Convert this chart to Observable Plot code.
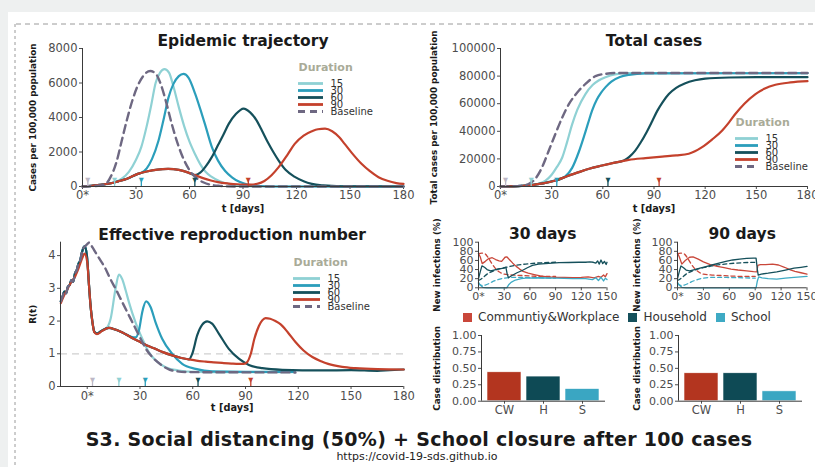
<!DOCTYPE html>
<html><head><meta charset="utf-8">
<script src="https://cdn.jsdelivr.net/npm/d3@7"></script>
<script src="https://cdn.jsdelivr.net/npm/@observablehq/plot@0.6"></script>
<style>
html,body{margin:0;padding:0;background:#eef0f0;overflow:hidden;}
#page{position:relative;width:815px;height:467px;overflow:hidden;}
#paper{position:absolute;left:8px;top:12px;right:0;bottom:0;background:#fff;}
#deco{position:absolute;left:0;top:0;}
#title{position:absolute;left:0;width:838px;top:428px;text-align:center;font:bold 19px "DejaVu Sans";letter-spacing:0.3px;color:#1a1a1a;white-space:nowrap;}
#url{position:absolute;left:0;width:834px;top:450px;text-align:center;font:11px "DejaVu Sans";color:#222;white-space:nowrap;}
.srcleg-swatches{font-family:"DejaVu Sans" !important;font-size:12px !important;color:#333 !important;margin:0 !important;min-height:0 !important;display:flex !important;align-items:center !important;}
.srcleg-swatch{margin-right:9px !important;}
.srcleg-swatch > svg{margin-right:6px !important;}
</style></head>
<body>
<div id="page">
  <div id="paper"></div>
  <svg id="deco" width="815" height="467">
    <line x1="16" y1="24" x2="815" y2="24" stroke="#9a9a9a" stroke-width="1" stroke-dasharray="5,4"/>
    <line x1="15" y1="24" x2="15" y2="467" stroke="#9a9a9a" stroke-width="1" stroke-dasharray="3,3"/>
  </svg>
  <div id="title">S3. Social distancing (50%) + School closure after 100 cases</div>
  <div id="url">https://covid-19-sds.github.io</div>
</div>
<script>
// ---------- data ----------
const durations = ["15", "30", "60", "90", "Baseline"];
const durColors = ["#8fd1d4", "#2b9ebb", "#15505b", "#c4412c", "#6e6882"];
const markerDays = [3, 18, 33, 63, 93];
const markerColors = ["#bdb8c6", "#8fd1d4", "#2b9ebb", "#15505b", "#c4412c"];
const dayTicks = [0, 30, 60, 90, 120, 150, 180];
const smallTicks = [0, 30, 60, 90, 120, 150];

// Epidemic trajectory (cases per 100,000)
const traj15 = [[0,0],[5,40],[10,90],[15,170],[18,250],[22,450],[26,850],[30,1550],[33,2300],[36,3500],[38.5,4700],[41,6000],[43.5,6600],[46,6800],[48.5,6600],[51,5800],[54,4600],[57,3500],[60,2600],[63,1900],[66,1300],[69,850],[72.5,560],[77,300],[82,150],[87,60],[92,15],[100,0],[180,0]];
const traj30 = [[0,0],[5,40],[10,90],[16,190],[20,300],[25,450],[31,730],[33,790],[36,1050],[39,1600],[42.6,2650],[45.5,3900],[48.2,5150],[51,5950],[54,6400],[56.6,6530],[59.5,6300],[63.2,5370],[66,4500],[69,3500],[72.5,2300],[76,1500],[80,900],[84,520],[88,270],[92,130],[100,30],[110,0],[180,0]];
const traj60 = [[0,0],[5,40],[10,90],[16,190],[20,300],[25,450],[31,730],[36,870],[42,980],[48,1020],[54,960],[59,820],[63,660],[66,800],[69,1150],[72.5,1700],[76,2400],[79,3000],[82,3630],[86,4200],[90.3,4520],[94,4300],[97.5,3850],[100.6,3250],[104,2550],[107,2000],[110,1500],[114,950],[119.3,540],[124,300],[128.6,150],[135,60],[145,10],[180,0]];
const traj90 = [[0,0],[5,40],[10,90],[16,190],[20,300],[25,450],[31,730],[36,870],[42,980],[48,1020],[54,960],[59,820],[63,660],[68,470],[72,350],[76,250],[82,170],[87,130],[91,115],[94,110],[98,160],[102,320],[106,650],[110,1120],[115,1850],[119,2470],[124,2950],[128.6,3200],[132,3320],[136,3350],[140,3200],[144,2850],[147,2470],[151,1950],[156.6,1300],[161,900],[166,540],[171,330],[176,200],[180,150]];
const trajBase = [[0,0],[5,15],[10,60],[13,150],[16,600],[19,1400],[22,2650],[25,3900],[28,5000],[31,5850],[34,6400],[38,6700],[41,6550],[44,5900],[47,4850],[50,3650],[53,2600],[56,1750],[60,950],[64,480],[68,230],[72,100],[77,35],[85,0],[180,0]];

// Total cases (per 100,000)
const total15 = [[0,0],[10,300],[15,700],[18,1000],[22,2000],[26.4,4300],[30,8500],[33,14000],[36.2,21000],[39,32000],[42,45000],[45,55500],[49.8,67000],[54,73500],[57.5,76800],[61.6,79200],[67,81200],[75,82100],[180,82200]];
const total30 = [[0,0],[10,300],[15,700],[20,1400],[25,2300],[32,4350],[35,5300],[38,7300],[42,13500],[45.9,25000],[49,36500],[51.5,46500],[53.7,55000],[56.5,63000],[59,68000],[61.6,72000],[65,76000],[70,79300],[75.2,80900],[85,82000],[180,82100]];
const total60 = [[0,0],[10,300],[16.6,750],[20,1400],[25,2300],[32.2,4350],[39,7400],[45.9,10400],[52,12900],[59.6,15200],[67,17300],[72.3,18800],[75.5,21500],[79,26000],[82,31500],[85.5,39000],[89,47500],[92,55000],[95,61000],[98.7,67000],[103,71500],[108,74700],[114,77000],[120,78200],[134,79000],[150,79200],[180,79200]];
const total90 = [[0,0],[10,300],[16.6,750],[20,1400],[25,2300],[32.2,4350],[39,7400],[45.9,10400],[52,12900],[59.6,15200],[67,17300],[75.2,19300],[85,20600],[94.8,21700],[103,22500],[110.4,23700],[114,25500],[118.2,28500],[124,34000],[130,40600],[134,46500],[137.8,52700],[143,60000],[149.5,67000],[155,71000],[161.2,73700],[170,75400],[180,76300]];
const totalBase = [[0,0],[5,80],[10,300],[14,800],[17,2200],[20,5000],[24.4,14000],[28,25000],[32,37500],[36.2,50000],[40,59500],[43,65000],[46,69600],[50,74500],[55.7,80000],[62,81700],[70,82300],[180,82300]];

// Effective reproduction number R(t)
const rtDomain = [-15.2, 180];
const rtEarly = [[-15,2.6],[-14,2.75],[-13,2.9],[-12,2.85],[-11,3.05],[-10,3.1],[-9,3.25],[-8,3.2],[-7,3.45],[-6,3.55],[-5,3.75],[-4,3.85],[-3,4.1],[-2,4.25],[-1.3,4.28]];
const rtDrop = [[0,3.9],[1,3.1],[2,2.4],[3,1.95],[4,1.68],[5.5,1.62],[8,1.7],[12.3,1.79]];
const rt15Start = [[10.4,1.76],[13.3,2.07]];
const rt15 = [[16.1,2.99],[18,3.42],[19.9,3.28],[21.8,2.95],[23.7,2.58],[27.5,1.95],[31.3,1.46],[35,1.05],[38.8,0.8],[44.5,0.59],[52,0.49],[61.6,0.45],[80,0.44],[118,0.44]];
const rt30 = [[16,1.74],[20,1.65],[25,1.52],[27.5,1.5],[29.4,1.71],[31.3,2.28],[33.5,2.6],[36,2.43],[38.8,1.97],[42.6,1.46],[48.3,1.0],[54,0.69],[61.6,0.54],[71,0.46],[90,0.45],[118,0.45]];
const rt90Early = [[-15,2.55],[-13,2.8],[-11,3.0],[-9,3.2],[-7,3.35],[-5,3.6],[-3,3.9],[-1.5,4.06],[0,3.8],[1,3.1],[2,2.4],[3,1.95],[4,1.66],[5.5,1.6],[8.5,1.7],[12.3,1.79]];
const rt90Mid = [[16,1.74],[20,1.65],[25,1.5],[29.4,1.38],[34,1.25],[38.8,1.15],[43,1.05],[48.3,0.95],[53,0.88],[57.8,0.83]];
const rt60Late = [[59.7,1.0],[62.5,1.56],[65.4,1.89],[68.2,1.99],[71,1.92],[74.9,1.61],[80.5,1.15],[86.2,0.85],[91.9,0.66],[99.5,0.56],[110.9,0.51],[133.6,0.49],[150,0.5],[165,0.48],[172,0.5],[180,0.52]];
const rt90Late = [[62,0.79],[67.3,0.76],[72,0.74],[76.7,0.72],[82,0.7],[86.2,0.69],[89,0.69],[91,0.75],[93,1.0],[95,1.45],[97.6,1.85],[99.5,2.02],[101.4,2.09],[104,2.07],[107,2.0],[110,1.9],[114,1.66],[118.4,1.36],[123,1.1],[128,0.9],[133,0.77],[137,0.69],[145,0.6],[152.5,0.56],[165,0.53],[180,0.52]];
const rtBase = [[0,4.35],[1,4.4],[3,4.25],[4.7,4.1],[7,3.9],[10.4,3.6],[13,3.3],[16.1,2.99],[19.9,2.58],[22.7,2.28],[25.6,1.97],[28.5,1.66],[31.3,1.36],[34,1.1],[37,0.9],[42.6,0.64],[48.3,0.49],[57.8,0.44],[118.4,0.43]];

// New infections by setting (%)
const sources = ["Communtiy&Workplace", "Household", "School"];
const srcColors = ["#c9473a", "#15505b", "#3eaac4"];
const cw30 = [[0,75],[2,68],[4.3,53],[8,58],[12,64],[16,66],[20,62],[24,59],[27,58],[31,67],[33,68],[36,62],[40,54],[44,47],[48,41],[52,36],[58,32],[65,29],[72,26],[80,24],[90,23],[100,23],[110,22.5],[120,23],[128,24],[135,22],[140,25],[143,23],[146,28],[148,24],[150,31]];
const hh30 = [[0,20],[2,35],[4,48],[7,45],[10,40],[14,37],[18,39],[22,41],[26,42],[30,43],[32,45],[33.5,30],[35,22],[39,27],[45,33],[51,38],[57,44],[63,49],[70,52],[78,53],[86,54],[94,55],[105,55.5],[117,56],[125,56],[130,57],[134,56],[137,54],[139,59],[141,52],[143,61],[145,53],[147,58],[149,51],[150,56]];
const sc30 = [[0,12],[2,6],[5,1],[10,0],[20,0],[33,0],[35,6],[38,12],[43,17],[50,20],[55,21],[70,22],[90,21],[110,20],[125,20],[133,18],[137,22],[140,16],[143,23],[146,15],[148,21],[150,18]];
const cw90 = [[0,76],[2,68],[5,52],[9,60],[14,67],[18,68],[24,63],[30,57],[38,51],[46,47],[54,44],[62,41],[70,39],[80,37],[88,35.5],[92,35],[93,49],[96,51],[102,51],[110,52],[117,50],[124,45],[130,40],[136,36],[143,33],[150,30]];
const hh90 = [[0,20],[2,35],[4,48],[7,44],[10,39],[14,37],[20,40],[26,43],[32,46],[40,50],[48,54],[56,58],[64,61],[72,63],[80,64.5],[88,65],[91,65],[92.5,40],[93.5,28],[97,30],[105,32],[115,35],[125,39],[135,43],[143,45],[150,47]];
const sc90 = [[0,12],[2,6],[5,1],[10,0],[50,0],[91,0],[92.5,15],[94,24],[98,22],[105,20],[115,19],[125,21],[135,23],[150,25]];
const cwBase = [[0,75],[4,76],[8,74],[12,64],[16,52],[20,42],[25,34],[30,30],[40,28],[50,27],[60,26],[75,25],[90,25]];
const hhBase = [[0,16],[5,22],[10,30],[15,35],[20,39],[25,42],[30,44],[40,48],[50,51],[60,53],[75,55],[90,56]];
const scBase = [[0,9],[4,5],[8,6],[12,9],[16,13],[20,16],[25,19],[30,21],[40,23],[50,23],[60,22.5],[75,22],[90,21]];

// Case distribution
const barCats = ["CW", "H", "S"];
const barColors = ["#b3351f", "#0e4a55", "#3aa6c2"];
const bars30 = [0.44, 0.375, 0.185];
const bars90 = [0.425, 0.425, 0.15];

// ---------- helpers ----------
const FONT = "DejaVu Sans";
const AX = "#3a3a3a";
const TXT = "#4d4d4d";
const page = document.getElementById("page");
function place(el, left, top) {
  el.style.position = "absolute";
  el.style.left = left + "px";
  el.style.top = top + "px";
  page.appendChild(el);
}
function style(fs) {
  return {fontFamily: FONT, fontSize: fs + "px", color: TXT, background: "transparent", overflow: "visible"};
}
const tfmt = d => d === 0 ? "0*" : String(d);
function ln(pairs, stroke, extra = {}) {
  return Plot.line(pairs, {x: d => d[0], y: d => d[1], stroke, strokeWidth: 2.2, curve: "monotone-x", ...extra});
}
function titleMark(t, dy, fs = 15.5) {
  return Plot.text([t], {text: d => d, frameAnchor: "top", dy, fontSize: fs, fontWeight: "bold", fill: "#1a1a1a"});
}
function xLabel(t, dy) {
  return Plot.text([t], {text: d => d, frameAnchor: "bottom", dy, fontSize: 9.8, fontWeight: "bold", fill: "#1a1a1a"});
}
function yLabel(t, dx) {
  return Plot.text([t], {text: d => d, frameAnchor: "left", textAnchor: "middle", dx, rotate: -90, fontSize: 8.8, fontWeight: "bold", fill: "#1a1a1a"});
}
function markerMarks(y0) {
  const out = [];
  markerDays.forEach((d, i) => {
    out.push(Plot.ruleX([d], {x: v => v, y1: y0, y2: y0, insetBottom: 6, stroke: markerColors[i], strokeWidth: 1.3}));
    out.push(Plot.text([d], {x: v => v, y: y0, text: () => "\u25BC", dy: -7, fontSize: 6.5, fill: markerColors[i]}));
  });
  return out;
}
function durationLegend(left, top, lineLen) {
  const el = Plot.plot({
    width: 120, height: 70, margin: 0,
    style: style(10),
    x: {domain: [0, 1], range: [2, 2 + lineLen], axis: null},
    y: {type: "point", domain: durations, range: [23, 62], axis: null},
    marks: [
      ...durations.map((d, i) => Plot.ruleY([d], Object.assign({y: v => v, x1: 0, x2: 1, stroke: durColors[i], strokeWidth: 2.8},
        d === "Baseline" ? {strokeDasharray: "7,5"} : {}))),
      Plot.text(durations, {x: 1, y: d => d, text: d => d, dx: 7, textAnchor: "start", fill: "#333", fontSize: 10}),
      Plot.text(["Duration"], {text: d => d, frameAnchor: "top-left", dx: 2, dy: 9, textAnchor: "start", fontWeight: "bold", fontSize: 11, fill: "#a9ab98"})
    ]
  });
  place(el, left, top);
}

// ---------- Panel 1: Epidemic trajectory ----------
const p1 = Plot.plot({
  width: 410, height: 200,
  marginLeft: 82, marginRight: 7, marginTop: 28, marginBottom: 34,
  style: style(11.5),
  x: {domain: [0, 180]},
  y: {domain: [0, 8000]},
  marks: [
    Plot.axisX({ticks: dayTicks, tickFormat: tfmt, tickSize: 3, tickPadding: 1.5, label: null}),
    Plot.axisY({ticks: [0, 2000, 4000, 6000, 8000], tickFormat: "d", tickSize: 3, tickPadding: 2, label: null}),
    ln(traj15, durColors[0]), ln(traj30, durColors[1]), ln(traj60, durColors[2]), ln(traj90, durColors[3]),
    ln(trajBase, durColors[4], {strokeDasharray: "8,5", strokeWidth: 2.4}),
    Plot.ruleX([0], {stroke: AX}),
    Plot.ruleY([0], {stroke: AX}),
    ...markerMarks(0),
    titleMark("Epidemic trajectory", -14),
    xLabel("t [days]", 25),
    yLabel("Cases per 100,000 population", -49)
  ]
});
place(p1, 0, 20);
durationLegend(296, 54, 25);

// ---------- Panel 2: Total cases ----------
const p2 = Plot.plot({
  width: 405, height: 200,
  marginLeft: 90, marginRight: 8, marginTop: 28, marginBottom: 34,
  style: style(11.5),
  x: {domain: [0, 180]},
  y: {domain: [0, 100000]},
  marks: [
    Plot.axisX({ticks: dayTicks, tickFormat: tfmt, tickSize: 3, tickPadding: 1.5, label: null}),
    Plot.axisY({ticks: [0, 20000, 40000, 60000, 80000, 100000], tickFormat: "d", tickSize: 3, tickPadding: 2, label: null}),
    ln(total15, durColors[0]), ln(total30, durColors[1]), ln(total60, durColors[2]), ln(total90, durColors[3]),
    ln(totalBase, durColors[4], {strokeDasharray: "8,5", strokeWidth: 2.4}),
    Plot.ruleX([0], {stroke: AX}),
    Plot.ruleY([0], {stroke: AX}),
    ...markerMarks(0),
    titleMark("Total cases", -14),
    xLabel("t [days]", 25),
    yLabel("Total cases per 100,000 population", -66)
  ]
});
place(p2, 410, 20);
durationLegend(733, 109, 23);

// ---------- Panel 3: R(t) ----------
const p3 = Plot.plot({
  width: 410, height: 205,
  marginLeft: 60, marginRight: 6.7, marginTop: 26.7, marginBottom: 34,
  style: style(11.5),
  x: {domain: rtDomain},
  y: {domain: [0, 4.41]},
  marks: [
    Plot.axisX({ticks: dayTicks, tickFormat: tfmt, tickSize: 3, tickPadding: 2.5, label: null}),
    Plot.axisY({ticks: [0, 1, 2, 3, 4], tickFormat: d => String(d), tickSize: 3, tickPadding: 2, label: null}),
    Plot.ruleY([1], {stroke: "#cfcfcf", strokeDasharray: "7,5", strokeWidth: 1.3}),
    ln([...rtEarly, ...rtDrop, ...rt15Start, ...rt15], durColors[0]),
    ln([...rtEarly, ...rtDrop, ...rt30], durColors[1]),
    ln([...rtEarly, ...rtDrop, ...rt90Mid, ...rt60Late], durColors[2]),
    ln([...rt90Early, ...rt90Mid, ...rt90Late], durColors[3]),
    ln([...rtEarly, ...rtBase], durColors[4], {strokeDasharray: "8,5", strokeWidth: 2.4}),
    Plot.ruleX([rtDomain[0]], {stroke: AX}),
    Plot.ruleY([0], {stroke: AX}),
    ...markerMarks(0),
    titleMark("Effective reproduction number", -13.7),
    xLabel("t [days]", 24),
    yLabel("R(t)", -27)
  ]
});
place(p3, 0, 215);
durationLegend(291, 249, 27);

// ---------- Panels 4/5: new infections ----------
function infPanel(title, cw, hh, sc, left, ml, ylx) {
  const el = Plot.plot({
    width: 205, height: 95,
    marginLeft: ml, marginRight: 8.5, marginTop: 26.7, marginBottom: 22.7,
    style: style(11),
    x: {domain: [0, 150]},
    y: {domain: [0, 100]},
    marks: [
      Plot.axisX({ticks: smallTicks, tickFormat: tfmt, tickSize: 3, tickPadding: 1.5, label: null}),
      Plot.axisY({ticks: [0, 20, 40, 60, 80, 100], tickSize: 3, tickPadding: 2, label: null}),
      ln(cwBase, srcColors[0], {strokeWidth: 1.3, strokeDasharray: "4,3"}),
      ln(hhBase, srcColors[1], {strokeWidth: 1.3, strokeDasharray: "4,3"}),
      ln(scBase, srcColors[2], {strokeWidth: 1.3, strokeDasharray: "4,3"}),
      ln(cw, srcColors[0], {strokeWidth: 1.3, curve: "linear"}),
      ln(hh, srcColors[1], {strokeWidth: 1.3, curve: "linear"}),
      ln(sc, srcColors[2], {strokeWidth: 1.3, curve: "linear"}),
      Plot.ruleX([0], {stroke: AX}),
      Plot.ruleY([0], {stroke: AX}),
      titleMark(title, -14.7, 15.5),
      yLabel("New infections (%)", ylx)
    ]
  });
  place(el, left, 215);
}
infPanel("30 days", cw30, hh30, sc30, 410, 68, -41);
infPanel("90 days", cw90, hh90, sc90, 610, 67, -40);

const leg = Plot.legend({color: {type: "ordinal", domain: sources, range: srcColors}, legend: "swatches", swatchSize: 9, className: "srcleg"});
place(leg, 463, 310);

// ---------- Panels 6/7: case distribution ----------
function barPanel(vals, left, ml, mr, ylx) {
  const rows = barCats.map((k, i) => ({k, v: vals[i], c: barColors[i]}));
  const W = 205;
  const frameW = W - ml - mr;
  const el = Plot.plot({
    width: W, height: 100,
    marginLeft: ml, marginRight: mr, marginTop: 15, marginBottom: 19.3,
    style: style(11),
    x: {domain: barCats, paddingInner: 0.13, paddingOuter: 0.14},
    y: {domain: [0, 1]},
    marks: [
      Plot.axisX({tickSize: 3, tickPadding: 1.5, label: null, fontSize: 11.5}),
      Plot.axisY({ticks: [0, 0.25, 0.5, 0.75, 1], tickFormat: ".2f", tickSize: 3, tickPadding: 2, label: null}),
      ...rows.map(r => Plot.barY([r], {x: "k", y: "v", fill: r.c, stroke: "#ffffff", strokeWidth: 0.6})),
      Plot.ruleX([0], {x: null, dx: -frameW / 2, stroke: AX}),
      Plot.ruleY([0], {stroke: AX}),
      yLabel("Case distribution", ylx)
    ]
  });
  place(el, left, 320);
  return el;
}
barPanel(bars30, 410, 71, 10, -44);
barPanel(bars90, 610, 68, 13, -41);
</script>
</body></html>
